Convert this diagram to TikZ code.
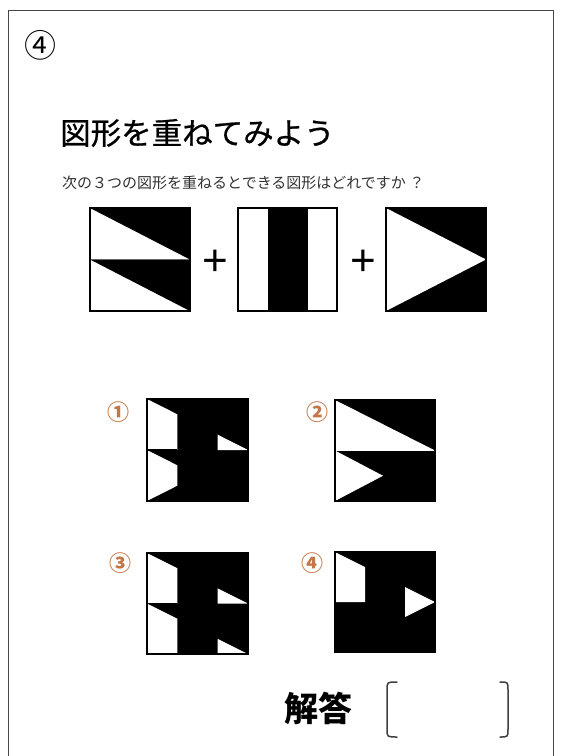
\documentclass[tikz,border=0pt]{standalone}
\usepackage{fontspec}
\newfontfamily\jp{Noto Sans CJK JP}
\newfontfamily\jpmed[FakeBold=0.7]{Noto Sans CJK JP}
\newfontfamily\plusfont{Liberation Sans}
\definecolor{labc}{RGB}{196,118,72}
\definecolor{framec}{RGB}{70,70,70}
\definecolor{subc}{RGB}{50,50,50}
\begin{document}
\begin{tikzpicture}[x=1pt,y=-1pt,
  figline/.style={draw=black,line width=1.8pt},
  optline/.style={draw=black,line width=1.3pt},
  wfill/.style={fill=white},
  optlab/.style={font=\jp\bfseries\fontsize{22}{22}\selectfont,text=labc,inner sep=0pt},
  plusnode/.style={font=\plusfont\fontsize{44}{44}\selectfont,inner sep=0pt},
  bracket/.style={draw=black!75,line width=1.5pt,line cap=round}]
\useasboundingbox (0,0) rectangle (561,756);
\fill[white] (0,0) rectangle (561,756);
% frame
\draw[framec,line width=1pt] (8,756) -- (8,10) -- (553,10) -- (553,756);
% heading number
\node[font=\jp\fontsize{32}{32}\selectfont,inner sep=0pt] (num) at (40,45) {④};
\node[anchor=west,inner sep=0pt,font=\jpmed\fontsize{30.5}{30.5}\selectfont] (title) at (60,133) {図形を重ねてみよう};
\node[anchor=west,inner sep=0pt,font=\jp\fontsize{15}{15}\selectfont,text=subc] (sub) at (62,183) {次の３つの図形を重ねるとできる図形はどれですか ？};
% figure 1
\begin{scope}[shift={(90,208)},x=100pt,y=-103pt]
  \fill[white] (0,0) rectangle (1,1);
  \fill[black] (0,0) -- (1,0) -- (1,0.5) -- cycle;
  \fill[black] (0,0.5) -- (1,0.5) -- (1,1) -- cycle;
  \draw[black!60,line width=1.2pt] (0,0.5) -- (1,0.5);
  \draw[figline] (0,0) rectangle (1,1);
\end{scope}
\node[plusnode] (p1) at (215,263) {+};
% figure 2
\begin{scope}[shift={(238,208)},x=99pt,y=-103pt]
  \fill[white] (0,0) rectangle (1,1);
  \fill[black] (0.3,0) rectangle (0.71,1);
  \draw[figline] (0,0) rectangle (1,1);
\end{scope}
\node[plusnode] (p2) at (363,263) {+};
% figure 3
\begin{scope}[shift={(386,208)},x=100pt,y=-103pt]
  \fill[black] (0,0) rectangle (1,1);
  \fill[white] (0,0) -- (1,0.5) -- (0,1) -- cycle;
  \draw[figline] (0,0) rectangle (1,1);
\end{scope}
% option 1
\node[optlab] (l1) at (118,412) {①};
\begin{scope}[shift={(147,399)},x=101pt,y=-102pt]
  \fill[black] (0,0) rectangle (1,1);
  \fill[wfill] (0,0) -- (0.3,0.15) -- (0.3,0.5) -- (0,0.5) -- cycle;
  \fill[wfill] (0,0.5) -- (0.3,0.65) -- (0.3,0.85) -- (0,1) -- cycle;
  \fill[wfill] (0.7,0.35) -- (1,0.5) -- (0.7,0.5) -- cycle;
  \draw[black,line width=1.6pt] (0,0.5) -- (0.3,0.5);
  \draw[optline] (0,0) rectangle (1,1);
\end{scope}
% option 2
\node[optlab] (l2) at (317,412) {②};
\begin{scope}[shift={(335,400)},x=100pt,y=-101pt]
  \fill[black] (0,0) rectangle (1,1);
  \fill[wfill] (0,0) -- (1,0.5) -- (0,0.5) -- cycle;
  \fill[wfill] (0,0.5) -- (0.48,0.75) -- (0,1) -- cycle;
  \draw[white,line width=1.2pt] (0,0.5) -- (1,0.5);
  \draw[optline] (0,0) rectangle (1,1);
\end{scope}
% option 3
\node[optlab] (l3) at (120,563) {③};
\begin{scope}[shift={(147,553)},x=101pt,y=-101pt]
  \fill[black] (0,0) rectangle (1,1);
  \fill[wfill] (0,0) -- (0.3,0.15) -- (0.3,0.5) -- (0,0.5) -- cycle;
  \fill[wfill] (0,0.5) -- (0.3,0.65) -- (0.3,1) -- (0,1) -- cycle;
  \fill[wfill] (0.7,0.35) -- (1,0.5) -- (0.7,0.5) -- cycle;
  \fill[wfill] (0.7,0.85) -- (1,1) -- (0.7,1) -- cycle;
  \draw[black,line width=1.6pt] (0,0.5) -- (0.3,0.5);
  \draw[optline] (0,0) rectangle (1,1);
\end{scope}
% option 4
\node[optlab] (l4) at (312,563) {④};
\begin{scope}[shift={(335,552)},x=100pt,y=-100pt]
  \fill[black] (0,0) rectangle (1,1);
  \fill[wfill] (0,0) -- (0.3,0.15) -- (0.3,0.5) -- (0,0.5) -- cycle;
  \fill[wfill] (0.7,0.35) -- (1,0.5) -- (0.7,0.65) -- cycle;
  \draw[optline] (0,0) rectangle (1,1);
\end{scope}
% answer
\node[anchor=west,inner sep=0pt,font=\jp\bfseries\fontsize{34}{34}\selectfont] (ans) at (284,708) {解答};
\coordinate (bl) at (387,682);
\coordinate (br) at (508,682);
\draw[bracket] ([xshift=10pt]bl) .. controls (bl) .. ([yshift=-8pt]bl) -- ([yshift=-47pt]bl) .. controls ([yshift=-55pt]bl) .. ([xshift=10pt,yshift=-55pt]bl);
\draw[bracket] ([xshift=-8pt]br) .. controls (br) .. ([yshift=-8pt]br) -- ([yshift=-47pt]br) .. controls ([yshift=-55pt]br) .. ([xshift=-8pt,yshift=-55pt]br);
\end{tikzpicture}
\end{document}
